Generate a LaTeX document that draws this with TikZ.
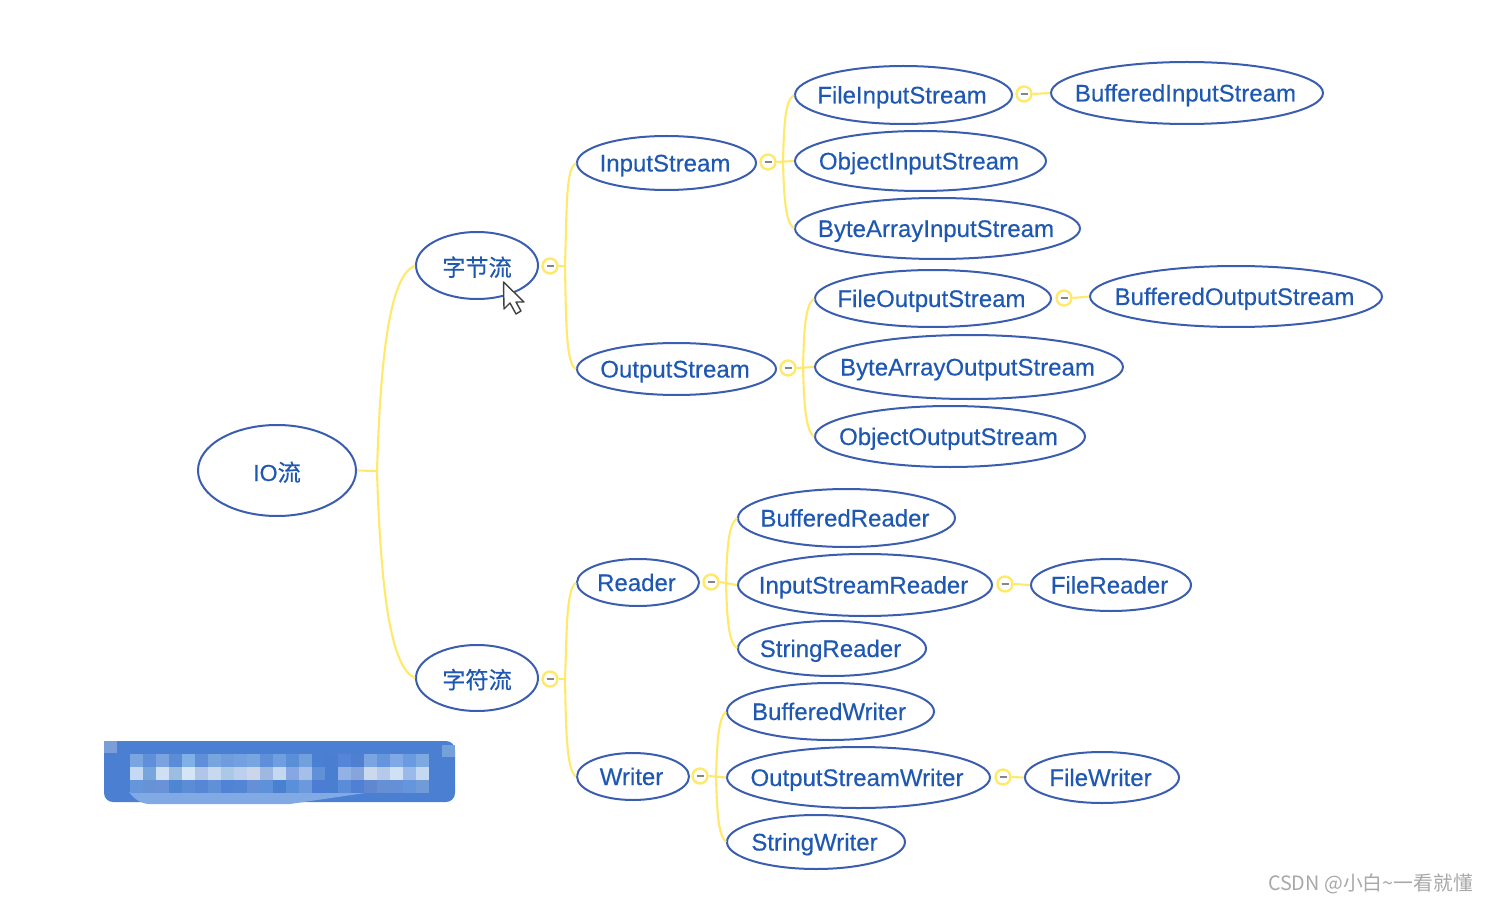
\documentclass[tikz,border=0pt]{standalone}
\usepackage{fontspec}
\setmainfont[FakeBold=0.35]{Liberation Sans}
\newfontfamily\cjk[FakeBold=0.35]{Noto Sans CJK SC}
\newfontfamily\wmfont{Noto Sans CJK SC}
\usetikzlibrary{shapes.geometric,calc}
\definecolor{edgeblue}{HTML}{3A5DB0}
\definecolor{textblue}{HTML}{1F58B2}
\definecolor{linkyellow}{HTML}{FFE96B}
\definecolor{wmgray}{HTML}{A8A8A8}
\definecolor{blurbase}{HTML}{4A7FD2}
\definecolor{blurcornerA}{HTML}{7A9FD8}
\definecolor{blurcornerB}{HTML}{76A0DC}
\definecolor{blurpatch}{HTML}{81A9E3}
\tikzset{
  ell/.style={ellipse,draw=edgeblue,line width=2pt,inner sep=0pt,fill=white,text=textblue,font=\fontsize{24}{28}\selectfont},
  tog/.style={circle,draw=linkyellow,line width=2.4pt,fill=white,minimum size=15pt,inner sep=0pt},
  link/.style={draw=linkyellow,line width=2.1pt},
}
\newcommand{\lb}[1]{\kern-3pt\makebox[0pt]{\raisebox{-8.5pt}[0pt][0pt]{#1}}}
\newcommand{\lc}[1]{\makebox[0pt]{\raisebox{-10.5pt}[0pt][0pt]{\fontsize{23.2}{28}\selectfont #1}}}
\newcommand{\tg}[2]{\node[tog] (#1) at #2 {}; \draw[wmgray!80!black,line width=1.2pt] ($(#1)+(-3.5,0)$) -- ($(#1)+(3.5,0)$);}
\begin{document}
\begin{tikzpicture}[x=1pt,y=-1pt]
\useasboundingbox (0,0) rectangle (1488,901);
% coordinates of branch trunks
\coordinate (tA) at (377,471);
\coordinate (tB) at (565,266);
\coordinate (tC) at (565,679);
\coordinate (tD) at (783,162);
\coordinate (tE) at (803,368);
\coordinate (tF) at (726,583);
\coordinate (tG) at (716,777);
% toggles
\tg{c1}{(550,266)}
\tg{c2}{(550,679)}
\tg{c3}{(768,162)}
\tg{c4}{(788,368)}
\tg{c5}{(711,582)}
\tg{c6}{(700,776)}
\tg{c7}{(1024,94)}
\tg{c8}{(1064,298)}
\tg{c9}{(1005,584)}
\tg{c10}{(1003,777)}
% nodes
\node[ell,minimum width=158pt,minimum height=91pt] (io) at (277,470.5) {\lc{IO{\cjk 流}}};
\node[ell,minimum width=122pt,minimum height=67pt] (zj) at (477,265.5) {\lc{\cjk 字节流}};
\node[ell,minimum width=122pt,minimum height=66pt] (zf) at (477,678) {\lc{\cjk 字符流}};
\node[ell,minimum width=179pt,minimum height=54pt] (is) at (666.5,163) {\lb{InputStream}};
\node[ell,minimum width=199pt,minimum height=52pt] (os) at (676.5,369) {\lb{OutputStream}};
\node[ell,minimum width=122pt,minimum height=47pt] (rd) at (638,582.5) {\lb{Reader}};
\node[ell,minimum width=112pt,minimum height=47pt] (wr) at (633,776.5) {\lb{Writer}};
\node[ell,minimum width=217pt,minimum height=58pt] (fis) at (903.5,95) {\lb{FileInputStream}};
\node[ell,minimum width=251pt,minimum height=60pt] (ois) at (920.5,161) {\lb{ObjectInputStream}};
\node[ell,minimum width=285pt,minimum height=61pt] (bais) at (937.5,228.5) {\lb{ByteArrayInputStream}};
\node[ell,minimum width=272pt,minimum height=62pt] (bis) at (1187,93) {\lb{BufferedInputStream}};
\node[ell,minimum width=236pt,minimum height=57pt] (fos) at (933,298.5) {\lb{FileOutputStream}};
\node[ell,minimum width=292pt,minimum height=61pt] (bos) at (1236,296.5) {\lb{BufferedOutputStream}};
\node[ell,minimum width=308pt,minimum height=64pt] (baos) at (969,367) {\lb{ByteArrayOutputStream}};
\node[ell,minimum width=270pt,minimum height=61pt] (oos) at (950,436.5) {\lb{ObjectOutputStream}};
\node[ell,minimum width=217pt,minimum height=58pt] (brd) at (846.5,518) {\lb{BufferedReader}};
\node[ell,minimum width=254pt,minimum height=62pt] (isr) at (865,585) {\lb{InputStreamReader}};
\node[ell,minimum width=188pt,minimum height=55pt] (srd) at (832,648.5) {\lb{StringReader}};
\node[ell,minimum width=160pt,minimum height=52pt] (frd) at (1111,585) {\lb{FileReader}};
\node[ell,minimum width=207pt,minimum height=57pt] (bwr) at (830.5,711.5) {\lb{BufferedWriter}};
\node[ell,minimum width=263pt,minimum height=61pt] (osw) at (858.5,777.5) {\lb{OutputStreamWriter}};
\node[ell,minimum width=178pt,minimum height=54pt] (swr) at (816,842) {\lb{StringWriter}};
\node[ell,minimum width=154pt,minimum height=51pt] (fwr) at (1102,777.5) {\lb{FileWriter}};
% connectors
\draw[link] (io.east) -- (tA) .. controls (381,340) and (392,275) .. (zj.west);
\draw[link] (tA) .. controls (381,600) and (392,668) .. (zf.west);
\draw[link] (c1.east) -- (tB);
\draw[link] (tB) .. controls (567,200) and (566,170) .. (is.west);
\draw[link] (tB) .. controls (566,320) and (566,365) .. (os.west);
\draw[link] (c2.east) -- (tC);
\draw[link] (tC) .. controls (567,630) and (566,590) .. (rd.west);
\draw[link] (tC) .. controls (566,725) and (566,770) .. (wr.west);
\draw[link] (c3.east) -- (ois.west);
\draw[link] (tD) .. controls (784,125) and (785,100) .. (fis.west);
\draw[link] (tD) .. controls (784,195) and (785,222) .. (bais.west);
\draw[link] (c4.east) -- (baos.west);
\draw[link] (tE) .. controls (804,330) and (805,305) .. (fos.west);
\draw[link] (tE) .. controls (804,400) and (805,430) .. (oos.west);
\draw[link] (c5.east) -- (isr.west);
\draw[link] (tF) .. controls (727,550) and (728,525) .. (brd.west);
\draw[link] (tF) .. controls (727,615) and (728,642) .. (srd.west);
\draw[link] (c6.east) -- (osw.west);
\draw[link] (tG) .. controls (717,745) and (718,718) .. (bwr.west);
\draw[link] (tG) .. controls (717,810) and (718,835) .. (swr.west);
\draw[link] (c7.east) -- (bis.west);
\draw[link] (c8.east) -- (bos.west);
\draw[link] (c9.east) -- (frd.west);
\draw[link] (c10.east) -- (fwr.west);
% cursor
\draw[fill=white,draw=black!75,line width=1.4pt,line join=round]
 (503.5,282) -- (504,309) -- (510,303) -- (516,314) -- (521,311) -- (516,302) -- (524,302) -- cycle;
% blurred box
\fill[blurbase,rounded corners=9pt] (104,741) rectangle (455,802);
\fill[blurbase] (117,741) rectangle (445,760);
\fill[blurcornerA] (104,741) rectangle (117,753);
\fill[blurcornerB] (442,745) rectangle (455,757);
\fill[blurpatch] (129,792) .. controls (135,800) and (142,804) .. (150,804) -- (290,804) -- (372,792) -- cycle;
\foreach \h [count=\i from 0] in {7AA5E0,5F8FD9,7AA3E0,5A8CD8,7FB0E6,5F8FD9,77A5DD,6F9CDD,72A0E0,78A6E0,5F8FD9,6F9FE0,5A8ED6,72A0DD,4A80D4,4A7ED0,5585D6,4F7FD0,7AA5E0,6595DD,80A8E5,6A9AE0,7DA8E0}{
  \definecolor{cellc}{HTML}{\h}
  \fill[cellc] (130+13*\i,754) rectangle ++(13,13);
}
\foreach \h [count=\i from 0] in {C5D9F2,78A5DC,CFE0F5,9BBDE0,D5E5F6,B0C5E8,C8D8EF,ABC9E6,BCCFEC,CBD6EA,9FB8E0,C5D8F2,88A6E2,A5C0E8,6090D5,4A7ED0,92B2E5,85A5DC,CCD9EC,B5C9E8,D0E0F5,9BBAEA,C5D8F2}{
  \definecolor{cellc}{HTML}{\h}
  \fill[cellc] (130+13*\i,767) rectangle ++(13,13);
}
\foreach \h [count=\i from 0] in {6595DA,6593D5,6A92D8,4F86D2,5C8CD5,5687D6,6090D8,5083D6,5485D5,6590D6,5F90DA,4A80D0,5A90DA,6C98DC,4C7CD4,4A7ED0,5A8CD8,4F80D4,6088D0,6590D4,6590D8,6495DD,709BD8}{
  \definecolor{cellc}{HTML}{\h}
  \fill[cellc] (130+13*\i,780) rectangle ++(13,12.5);
}
% watermark
\node[text=wmgray,font=\fontsize{19.8}{24}\selectfont\wmfont,anchor=east,inner sep=0pt] (wm) at (1473,883.5) {CSDN @小白\textasciitilde 一看就懂};
\end{tikzpicture}
\end{document}
